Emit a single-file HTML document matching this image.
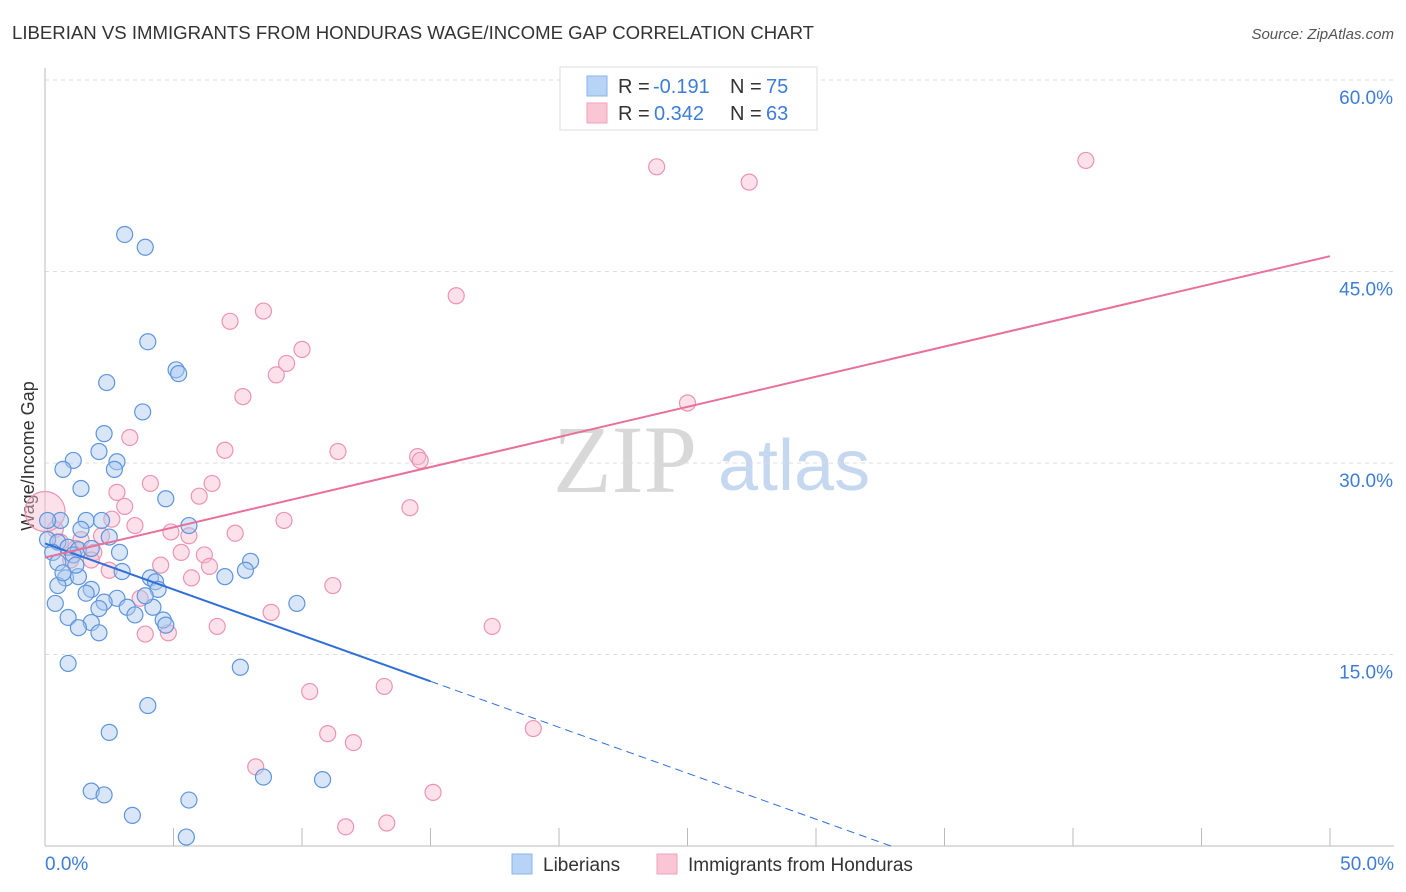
<!DOCTYPE html>
<html><head><meta charset="utf-8"><style>
body{margin:0;background:#fff;font-family:"Liberation Sans",sans-serif;}
svg{display:block}
</style></head><body>
<svg id="chart" width="1406" height="892" xmlns="http://www.w3.org/2000/svg" font-family="Liberation Sans, sans-serif">
<text x="12" y="39" font-size="18.6" fill="#333">LIBERIAN VS IMMIGRANTS FROM HONDURAS WAGE/INCOME GAP CORRELATION CHART</text>
<text x="1394" y="39" font-size="15" fill="#555" text-anchor="end" font-style="italic">Source: ZipAtlas.com</text>
<text x="553" y="492" font-size="96" fill="#d8d8d8" font-family="Liberation Serif, serif">ZIP</text>
<text x="718" y="490" font-size="72" fill="#c5d8f0">atlas</text>
<text transform="translate(34,456) rotate(-90)" font-size="18" fill="#333" text-anchor="middle">Wage/Income Gap</text>
<g id="grid"></g><g id="axes"></g><g id="marks"></g>
<g>
<rect x="560" y="67" width="257" height="63" fill="#fff" stroke="#ddd"/>
<rect x="587" y="76" width="20" height="20" fill="#b7d3f6" stroke="#8ab4ea"/>
<rect x="587" y="103" width="20" height="20" fill="#fac6d6" stroke="#f1a2bb"/>
<text x="618" y="93" font-size="20" fill="#333">R =</text>
<text x="653" y="93" font-size="20" fill="#3d7dd8">-0.191</text>
<text x="730" y="93" font-size="20" fill="#333">N =</text>
<text x="766" y="93" font-size="20" fill="#3d7dd8">75</text>
<text x="618" y="120" font-size="20" fill="#333">R =</text>
<text x="654" y="120" font-size="20" fill="#3d7dd8">0.342</text>
<text x="730" y="120" font-size="20" fill="#333">N =</text>
<text x="766" y="120" font-size="20" fill="#3d7dd8">63</text>
</g>
<g>
<rect x="512" y="854" width="20" height="20" fill="#b7d3f6" stroke="#8ab4ea"/>
<text x="543" y="871" font-size="19" fill="#333">Liberians</text>
<rect x="657" y="854" width="20" height="20" fill="#fac6d6" stroke="#f1a2bb"/>
<text x="688" y="871" font-size="19" fill="#333">Immigrants from Honduras</text>
</g>
</svg>
<script>
const yTicks=[15,30,45,60];
const xTickLabels=["0.0%","50.0%"];
const blueX=[3.1,3.9,4.0,5.1,5.2,2.4,3.8,2.3,2.1,1.1,0.7,2.8,2.7,1.4,4.7,0.6,1.6,2.2,5.6,1.4,2.5,0.1,0.5,0.9,1.3,1.8,2.9,0.3,1.1,8.0,0.5,7.0,7.8,3.0,0.8,1.3,4.1,4.3,1.8,0.5,2.8,2.3,1.6,3.2,2.1,4.2,4.4,0.4,0.9,1.8,3.5,4.6,4.7,9.8,1.3,2.1,0.9,7.6,4.0,2.5,8.5,10.8,1.8,2.3,5.6,3.4,5.5,3.9,1.2,0.7,0.1];
const blueY=[47.9,46.9,39.5,37.3,37.0,36.3,34.0,32.3,30.9,30.2,29.5,30.1,29.5,28.0,27.2,25.5,25.5,25.5,25.1,24.8,24.2,24.0,23.8,23.4,23.2,23.3,23.0,23.0,22.8,22.3,22.2,21.1,21.6,21.5,21.0,21.1,21.0,20.7,20.1,20.4,19.4,19.1,19.8,18.7,18.6,18.7,20.1,19.0,17.9,17.5,18.1,17.7,17.3,19.0,17.1,16.7,14.3,14.0,11.0,8.9,5.4,5.2,4.3,4.0,3.6,2.4,0.7,19.6,22.0,21.4,25.5];
const pinkX=[23.8,40.5,27.4,16.0,8.5,7.2,10.0,9.4,9.0,7.7,25.0,3.3,7.0,11.4,14.5,14.6,4.1,6.5,2.8,6.0,3.1,14.2,2.6,9.3,3.5,4.9,7.4,5.6,2.2,1.4,1.2,1.9,5.3,6.2,1.8,6.4,4.5,5.7,11.2,3.7,8.8,6.7,17.4,3.9,4.8,10.3,13.2,19.0,11.0,12.0,8.2,15.1,11.7,13.3,0.4,1.0,2.5,0.6];
const pinkY=[53.2,53.7,52.0,43.1,41.9,41.1,38.9,37.8,36.9,35.2,34.7,32.0,31.0,30.9,30.5,30.2,28.4,28.4,27.7,27.4,26.6,26.5,25.6,25.5,25.1,24.6,24.5,24.3,24.3,24.0,23.3,23.0,23.0,22.8,22.4,21.9,22.0,21.0,20.4,19.4,18.3,17.2,17.2,16.6,16.7,12.1,12.5,9.2,8.8,8.1,6.2,4.2,1.5,1.8,24.8,22.4,21.6,23.8];
const bigPink=[0,26.2];
const blueTrend=[23.7,-0.72];
const pinkTrend=[22.6,0.472];
const NS="http://www.w3.org/2000/svg";
const sx=v=>45+v/50*1285;
const sy=v=>846-v/15*191.5;
function mk(tag,attrs,parent){const e=document.createElementNS(NS,tag);for(const k in attrs)e.setAttribute(k,attrs[k]);parent.appendChild(e);return e;}
const grid=document.getElementById('grid'),axes=document.getElementById('axes'),marks=document.getElementById('marks');
yTicks.forEach(t=>{
 const l=mk('line',{x1:45,x2:1394,y1:sy(t),y2:sy(t),stroke:'#ddd','stroke-dasharray':'4,4'},grid);
 
 
 const tx=mk('text',{x:1393,y:sy(t)+24,'font-size':19,fill:'#3d7dd8','text-anchor':'end'},axes);
 tx.textContent=t.toFixed(1)+'%';
 
 
});
const ax=mk('line',{x1:45,x2:45,y1:68,y2:846,stroke:'#bbb'},axes);


const bx=mk('line',{x1:45,x2:1394,y1:846,y2:846,stroke:'#bbb'},axes);


for(let i=0;i<=10;i++){const t=mk('line',{x1:sx(i*5),x2:sx(i*5),y1:828,y2:846,stroke:'#bbb'},axes);
 
 }
[[xTickLabels[0],45,'start'],[xTickLabels[1],1394,'end']].forEach(a=>{const t=mk('text',{x:a[1],y:870,'font-size':19,fill:'#3d7dd8','text-anchor':a[2]},axes);t.textContent=a[0];
 
 });
function dot(x,y,r,fill,stroke,name){const c=mk('circle',{cx:sx(x),cy:sy(y),r:r,fill:fill,'fill-opacity':0.45,stroke:stroke,'stroke-width':1.2},marks);
 
 }
pinkX.forEach((x,i)=>dot(x,pinkY[i],8,'#f9bdd0','#ec94b0','honduras-point'));
dot(bigPink[0],bigPink[1],20,'#f9bdd0','#ec94b0','honduras-point-large');
blueX.forEach((x,i)=>dot(x,blueY[i],8,'#a9c8f0','#5f95dd','liberian-point'));
const bEnd=-blueTrend[0]/blueTrend[1];
const b1=mk('line',{x1:sx(0),y1:sy(blueTrend[0]),x2:sx(15),y2:sy(blueTrend[0]+blueTrend[1]*15),stroke:'#2f6fd6','stroke-width':2},marks);


const b2=mk('line',{x1:sx(15),y1:sy(blueTrend[0]+blueTrend[1]*15),x2:sx(bEnd),y2:sy(0),stroke:'#2f6fd6','stroke-width':1,'stroke-dasharray':'8,5'},marks);


const p1=mk('line',{x1:sx(0),y1:sy(pinkTrend[0]),x2:sx(50),y2:sy(pinkTrend[0]+pinkTrend[1]*50),stroke:'#e8709a','stroke-width':2},marks);


</script>
</body></html>
